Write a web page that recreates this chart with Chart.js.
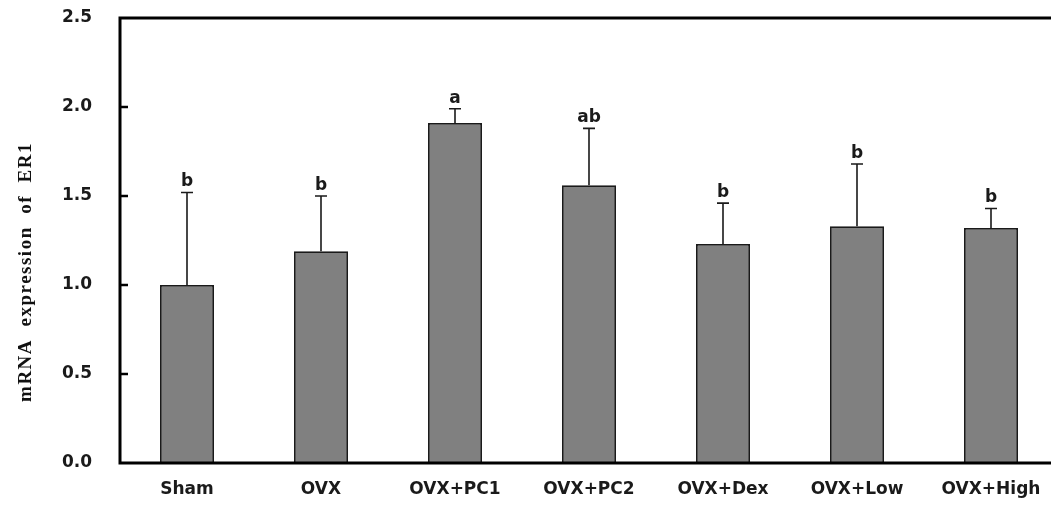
<!DOCTYPE html>
<html>
<head>
<meta charset="utf-8">
<script src="https://cdn.jsdelivr.net/npm/chart.js@4/dist/chart.umd.min.js"></script>
<style>
  html, body { margin: 0; padding: 0; background: #fff; overflow: hidden; }
  #wrap { width: 1060px; height: 513px; }
</style>
</head>
<body>
<div id="wrap"><canvas id="c" width="1060" height="513"></canvas></div>
<script>
// Relative ER1 mRNA expression per treatment group (mean, SD, significance letter)
const groups = ['Sham', 'OVX', 'OVX+PC1', 'OVX+PC2', 'OVX+Dex', 'OVX+Low', 'OVX+High'];
const means  = [1.00, 1.19, 1.91, 1.56, 1.23, 1.33, 1.32];
const errors = [0.52, 0.31, 0.08, 0.32, 0.23, 0.35, 0.11];
const letters = ['b', 'b', 'a', 'ab', 'b', 'b', 'b'];
const yTicks = [0, 0.5, 1.0, 1.5, 2.0, 2.5];

const sansFamily = "'DejaVu Sans', 'Open Sans', sans-serif";
const tickFont = { family: sansFamily, size: 17, weight: 'bold' };

const framePlugin = {
  id: 'frame',
  afterDatasetsDraw(chart) {
    const { ctx, chartArea: a, scales: { x, y } } = chart;
    ctx.save();
    // error bars with caps
    const meta = chart.getDatasetMeta(0);
    ctx.strokeStyle = '#1a1a1a';
    ctx.lineWidth = 1.6;
    meta.data.forEach((bar, i) => {
      const yTop = y.getPixelForValue(means[i]);
      const yErr = y.getPixelForValue(means[i] + errors[i]);
      ctx.beginPath();
      ctx.moveTo(bar.x, yTop);
      ctx.lineTo(bar.x, yErr);
      ctx.moveTo(bar.x - 6, yErr);
      ctx.lineTo(bar.x + 6, yErr);
      ctx.stroke();
      // significance letter
      ctx.fillStyle = '#1a1a1a';
      ctx.font = 'bold 17px ' + sansFamily;
      ctx.textAlign = 'center';
      ctx.textBaseline = 'alphabetic';
      ctx.fillText(letters[i], bar.x, yErr - 6);
    });
    // axis frame: left, bottom, top
    ctx.strokeStyle = '#000';
    ctx.lineWidth = 3;
    ctx.beginPath();
    ctx.moveTo(a.right + 5, a.top);
    ctx.lineTo(a.left, a.top);
    ctx.lineTo(a.left, a.bottom);
    ctx.lineTo(a.right + 5, a.bottom);
    ctx.stroke();
    // inward tick marks
    ctx.lineWidth = 2.5;
    yTicks.slice(1, -1).forEach(v => {
      const py = y.getPixelForValue(v);
      ctx.beginPath();
      ctx.moveTo(a.left, py);
      ctx.lineTo(a.left + 8, py);
      ctx.stroke();
    });
    // axis title
    ctx.save();
    ctx.translate(26, 272);
    ctx.rotate(-Math.PI / 2);
    ctx.font = "bold 19px 'Liberation Serif', 'Times New Roman', serif";
    if ('letterSpacing' in ctx) ctx.letterSpacing = '1.5px';
    ctx.fillStyle = '#111';
    ctx.textAlign = 'center';
    ctx.textBaseline = 'middle';
    ctx.fillText('mRNA  expression  of  ER1', 0, 0);
    ctx.restore();
    ctx.restore();
  }
};

new Chart(document.getElementById('c'), {
  type: 'bar',
  data: {
    labels: groups,
    datasets: [{
      data: means,
      backgroundColor: '#808080',
      borderColor: '#1a1a1a',
      borderWidth: 1.8,
      barPercentage: 0.403,
      categoryPercentage: 1.0
    }]
  },
  options: {
    responsive: false,
    animation: false,
    layout: { padding: { top: 18, right: 2, left: 0, bottom: 0 } },
    plugins: { legend: { display: false }, tooltip: { enabled: false } },
    scales: {
      x: {
        grid: { display: false, drawTicks: false },
        border: { display: false },
        ticks: { color: '#1a1a1a', font: tickFont, padding: 16, maxRotation: 0 },
        afterFit(s) { s.height = 50; s.paddingLeft = 0; s.paddingRight = 0; }
      },
      y: {
        min: 0, max: 2.5,
        grid: { display: false, drawTicks: false },
        border: { display: false },
        ticks: {
          stepSize: 0.5,
          color: '#1a1a1a',
          font: tickFont,
          padding: 28,
          callback: v => Number(v).toFixed(1)
        },
        afterFit(s) { s.width = 120; s.paddingTop = 0; s.paddingBottom = 0; }
      }
    }
  },
  plugins: [framePlugin]
});
</script>
</body>
</html>
